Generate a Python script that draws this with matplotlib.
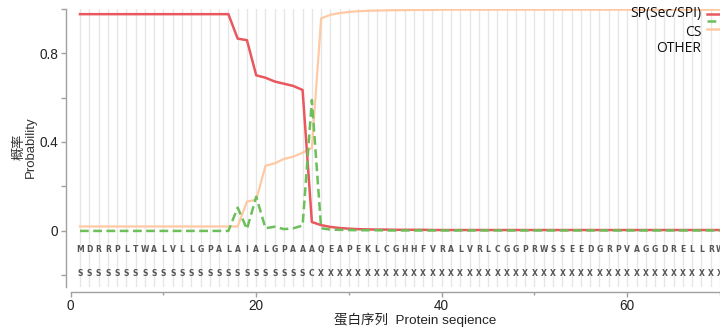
import numpy as np
import matplotlib
matplotlib.use("Agg")
import matplotlib.pyplot as plt
from matplotlib.lines import Line2D

plt.rcParams['font.family'] = ['Liberation Sans', 'Noto Sans CJK SC', 'DejaVu Sans']

# ---- data ----
positions = list(range(1, 71))
sequence = list("MDRRPLTWALVLLGPALAIALGPAAAQEAPEKLCGHHFVRALVRLCGGPRWSSEEDGRPVAGGDRELLRW")
annotation = list("S" * 25 + "C" + "X" * 44)

sp_prob = [0.975, 0.975, 0.975, 0.975, 0.975, 0.975, 0.975, 0.975, 0.975, 0.975,
           0.975, 0.975, 0.975, 0.975, 0.975, 0.975, 0.975, 0.865, 0.858, 0.700,
           0.689, 0.672, 0.662, 0.652, 0.634, 0.040, 0.026, 0.018, 0.013, 0.010,
           0.008, 0.007, 0.006, 0.006, 0.005, 0.005, 0.005, 0.005, 0.004, 0.004,
           0.004, 0.004, 0.004, 0.004, 0.004, 0.004, 0.004, 0.004, 0.004, 0.004,
           0.004, 0.004, 0.004, 0.004, 0.004, 0.004, 0.004, 0.004, 0.004, 0.004,
           0.004, 0.004, 0.004, 0.004, 0.004, 0.004, 0.004, 0.004, 0.004, 0.004]

cs_prob = [0.000, 0.000, 0.000, 0.000, 0.000, 0.000, 0.000, 0.000, 0.000, 0.000,
           0.000, 0.000, 0.000, 0.000, 0.000, 0.000, 0.000, 0.105, 0.008, 0.154,
           0.012, 0.019, 0.008, 0.012, 0.024, 0.589, 0.012, 0.006, 0.005, 0.004,
           0.003, 0.003, 0.003, 0.002, 0.002, 0.002, 0.002, 0.002, 0.002, 0.002,
           0.002, 0.002, 0.002, 0.002, 0.002, 0.002, 0.002, 0.002, 0.002, 0.002,
           0.002, 0.002, 0.002, 0.002, 0.002, 0.002, 0.002, 0.002, 0.002, 0.002,
           0.002, 0.002, 0.002, 0.002, 0.002, 0.002, 0.002, 0.002, 0.002, 0.002]

other_prob = [0.020, 0.020, 0.020, 0.020, 0.020, 0.020, 0.020, 0.020, 0.020, 0.020,
              0.020, 0.020, 0.020, 0.020, 0.020, 0.020, 0.020, 0.020, 0.132, 0.140,
              0.293, 0.304, 0.324, 0.334, 0.352, 0.373, 0.956, 0.972, 0.980, 0.985,
              0.988, 0.990, 0.991, 0.992, 0.993, 0.993, 0.994, 0.994, 0.994, 0.995,
              0.995, 0.995, 0.995, 0.995, 0.995, 0.995, 0.995, 0.995, 0.995, 0.995,
              0.995, 0.995, 0.995, 0.995, 0.995, 0.995, 0.995, 0.995, 0.995, 0.995,
              0.995, 0.995, 0.995, 0.995, 0.995, 0.995, 0.995, 0.995, 0.995, 0.995]

series_labels = ["SP(Sec/SPI)", "CS", "OTHER"]
x_ticks = [0, 20, 40, 60]
y_ticks = [-0.2, 0.0, 0.2, 0.4, 0.6, 0.8, 1.0]
y_ticklabels = ["", "0", "", "0.4", "", "0.8", ""]

# ---- styles ----
red = "#E8585E"
green = "#6CBF5A"
orange = "#FFC9A3"
grid_c = "#E6E6E6"
axis_c = "#A0A0A0"

W, H = 720, 327
fig = plt.figure(figsize=(W / 100, H / 100), dpi=100)
ax_left, ax_right = 70.7, 720.0
ax_top, ax_bot = 8.6, 286.5
ax = fig.add_axes([ax_left / W, 1 - ax_bot / H, (ax_right - ax_left) / W, (ax_bot - ax_top) / H])
ax.set_xlim(0, 70)
ax.set_ylim(-0.25, 1.0)

for p in positions:
    ax.axvline(p, color=grid_c, lw=1.0, zorder=0)

ax.plot(positions, other_prob, color=orange, lw=1.6, zorder=2)
ax.plot(positions, sp_prob, color=red, lw=1.8, zorder=3)
ax.plot(positions, cs_prob, color=green, lw=1.8, ls=(0, (3.5, 1.8)), zorder=4)

for p, aa, an in zip(positions, sequence, annotation):
    ax.text(p, -0.082, aa, ha="center", va="center", fontsize=5.5,
            color="#555555", family="DejaVu Sans", fontweight="bold", clip_on=False)
    ax.text(p, -0.19, an, ha="center", va="center", fontsize=5.5,
            color="#555555", family="DejaVu Sans", fontweight="bold", clip_on=False)

for s in ["top", "right"]:
    ax.spines[s].set_visible(False)
for s in ["left", "bottom"]:
    ax.spines[s].set_color(axis_c)
    ax.spines[s].set_linewidth(1.0)
    ax.spines[s].set_position(("outward", 3.6))

ax.set_xticks(x_ticks)
ax.set_xticks([10, 30, 50, 70], minor=True)
ax.set_yticks(y_ticks)
ax.set_yticklabels(y_ticklabels)
ax.tick_params(axis="both", colors=axis_c, labelcolor="#222222", labelsize=9.8,
               width=1.0, length=3.6, pad=2.0)
ax.tick_params(axis="x", which="minor", colors=axis_c, length=2.2, width=1.0)

fig.text(25 / W, 1 - 147 / H, "概率\nProbability", rotation=90, ha="center", va="center",
         fontsize=9.5, color="#333333", linespacing=1.0)
fig.text(415 / W, 1 - 319.5 / H, "蛋白序列  Protein seqience", ha="center", va="center",
         fontsize=9.7, color="#222222")

# legend (text right-aligned, handles on the right)
leg_text_y = [13, 33, 48]
leg_handle_y = [14, 21.3, 29.3]
leg_colors = [red, green, orange]
leg_styles = ["-", (0, (3.5, 1.8)), "-"]
for lab, ty, hy, c, st in zip(series_labels, leg_text_y, leg_handle_y, leg_colors, leg_styles):
    fig.text(701 / W, 1 - ty / H, lab, ha="right", va="center", fontsize=10,
             family=["Open Sans", "DejaVu Sans"], color="#111111")
    fig.add_artist(Line2D([707 / W, 730 / W], [1 - hy / H, 1 - hy / H], color=c, lw=1.8,
                          ls=st, transform=fig.transFigure))

fig.savefig("out.png", dpi=100)
